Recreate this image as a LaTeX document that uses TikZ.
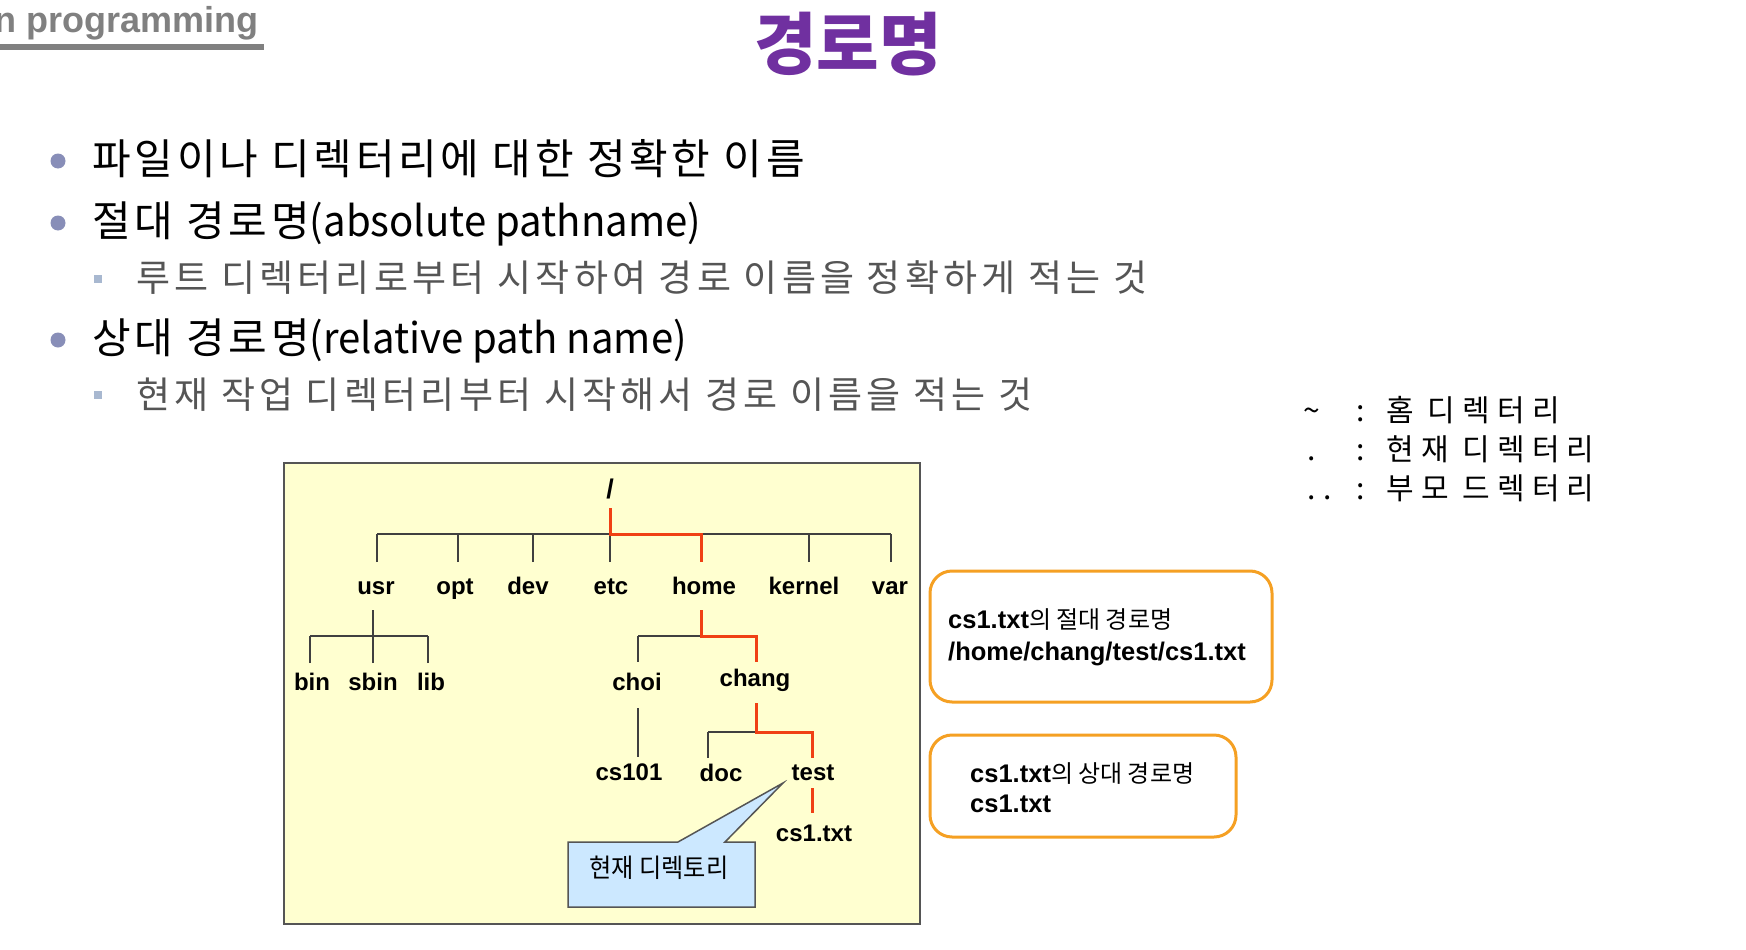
\documentclass[tikz,border=0pt]{standalone}
\usepackage{fontspec}
\setmainfont{Liberation Sans}
\newfontfamily\kr{Noto Sans CJK KR}
\newfontfamily\krc{Noto Sans CJK KR}[FakeStretch=0.93]
\newfontfamily\krl{Noto Sans CJK KR}[LetterSpace=24]
\newfontfamily\krma{Noto Sans CJK KR}[LetterSpace=9]
\newfontfamily\krsb{Noto Sans CJK KR}[LetterSpace=11.5]
\newfontfamily\krn{Noto Sans CJK KR}[FakeStretch=0.955]
\definecolor{titlepurple}{RGB}{112,48,160}
\definecolor{bulletblue}{RGB}{136,142,184}
\definecolor{subsq}{RGB}{168,184,208}
\definecolor{subgray}{RGB}{85,85,85}
\definecolor{hdrgray}{RGB}{128,128,128}
\definecolor{boxyellow}{RGB}{255,255,208}
\definecolor{framegray}{RGB}{85,85,85}
\definecolor{pathred}{RGB}{240,64,20}
\definecolor{calloutblue}{RGB}{204,232,255}
\definecolor{boxorange}{RGB}{245,160,35}
\tikzset{
  lbl/.style={font=\fontsize{24}{28}\selectfont\bfseries, inner sep=0pt, anchor=base},
  tline/.style={draw=black!75, line width=1.3pt},
  rline/.style={draw=pathred, line width=3pt},
  bul/.style={circle, fill=bulletblue, minimum size=15pt, inner sep=0pt},
  sqbul/.style={fill=subsq, minimum size=8pt, inner sep=0pt},
  mainline/.style={font=\krma\fontsize{42}{50}\selectfont, anchor=base west, inner sep=0pt},
  subline/.style={font=\krsb\fontsize{37}{44}\selectfont, text=subgray, anchor=base west, inner sep=0pt},
  legend/.style={font=\krl\fontsize{30}{36}\selectfont, anchor=base west, inner sep=0pt},
  legsym/.style={font=\kr\fontsize{30}{36}\selectfont, anchor=base, inner sep=0pt},
  infobox/.style={draw=boxorange, line width=3pt, rounded corners=22pt, fill=white},
  boxtext/.style={font=\fontsize{25.5}{30}\selectfont\bfseries, anchor=base west, inner sep=0pt}
}
\newcommand{\krt}[1]{{\kr\mdseries\fontsize{24}{28}\selectfont #1}}
\begin{document}
\begin{tikzpicture}[x=1pt,y=-1pt]
\useasboundingbox (0,0) rectangle (1746,950);
\clip (0,0) rectangle (1746,950);
\fill[white] (0,0) rectangle (1746,950);

% header
\node[font=\fontsize{36}{42}\selectfont\bfseries, text=hdrgray, anchor=base east, inner sep=0pt] (hdr) at (259,33) {n programming};
\fill[hdrgray] (0,44) rectangle (264,50);
\node[font=\kr\bfseries\fontsize{68}{76}\selectfont, text=titlepurple, anchor=base, inner sep=0pt] (title) at (848,70) {경로명};

% bullets
\node[bul] (b1) at (58,161) {};
\node[mainline] (t1) at (92,174) {파일이나 디렉터리에 대한 정확한 이름};
\node[bul] (b2) at (58,223) {};
\node[mainline] (t2) at (92,236) {절대 경로명{\krn (absolute pathname)}};
\node[sqbul] (s1) at (98,279) {};
\node[subline] (t3) at (136,291) {루트 디렉터리로부터 시작하여 경로 이름을 정확하게 적는 것};
\node[bul] (b3) at (58,340) {};
\node[mainline] (t4) at (92,353) {상대 경로명{\krn (relative path name)}};
\node[sqbul] (s2) at (98,395) {};
\node[subline] (t5) at (136,408) {현재 작업 디렉터리부터 시작해서 경로 이름을 적는 것};

% legend
\node[legsym] (l1s) at (1312,421) {\textasciitilde};
\node[legsym] (l1c) at (1361,421) {:};
\node[legend] (l1t) at (1386,421) {홈 디렉터리};
\node[legsym] (l2s) at (1312,460) {.};
\node[legsym] (l2c) at (1361,460) {:};
\node[legend] (l2t) at (1386,460) {현재 디렉터리};
\node[legsym] (l3s) at (1320,499) {.\hspace{8pt}.};
\node[legsym] (l3c) at (1361,499) {:};
\node[legend] (l3t) at (1386,499) {부모 드렉터리};

% tree frame
\draw[fill=boxyellow, draw=framegray, line width=2pt] (284,463) rectangle (920,924);

% labels
\node[lbl, font=\fontsize{27}{30}\selectfont\bfseries] (root) at (610,498) {/};
\node[lbl] (usr) at (376,594) {usr};
\node[lbl] (opt) at (455,594) {opt};
\node[lbl] (dev) at (528,594) {dev};
\node[lbl] (etc) at (611,594) {etc};
\node[lbl] (home) at (704,594) {home};
\node[lbl] (kernel) at (804,594) {kernel};
\node[lbl] (var) at (890,594) {var};
\node[lbl] (bin) at (312,690) {bin};
\node[lbl] (sbin) at (373,690) {sbin};
\node[lbl] (lib) at (431,690) {lib};
\node[lbl] (choi) at (637,690) {choi};
\node[lbl] (chang) at (755,686) {chang};
\node[lbl] (cs101) at (629,780) {cs101};
\node[lbl] (doc) at (721,781) {doc};
\node[lbl] (test) at (813,780) {test};
\node[lbl] (cs1) at (814,841) {cs1.txt};

% coordinates for connectors
\coordinate (rootout) at (610,508);
\coordinate (busw) at (377,534);
\coordinate (buse) at (891,534);
\coordinate (busroot) at (610,534);
\coordinate (usrin) at (377,562);
\coordinate (optin) at (458,562);
\coordinate (devin) at (533,562);
\coordinate (etcin) at (610,562);
\coordinate (homein) at (701,562);
\coordinate (kernelin) at (809,562);
\coordinate (varin) at (891,562);
\coordinate (usrout) at (373,610);
\coordinate (usrbus) at (373,636);
\coordinate (usrbw) at (310,636);
\coordinate (usrbe) at (428,636);
\coordinate (binin) at (310,663);
\coordinate (sbinin) at (373,663);
\coordinate (libin) at (428,663);
\coordinate (homeout) at (701,610);
\coordinate (homebus) at (701,636);
\coordinate (choibus) at (638,636);
\coordinate (choiin) at (638,662);
\coordinate (changbus) at (756,636);
\coordinate (changin) at (756,662);
\coordinate (choiout) at (638,708);
\coordinate (cs101in) at (638,757);
\coordinate (changout) at (756,703);
\coordinate (changb) at (756,732);
\coordinate (docb) at (708,732);
\coordinate (docin) at (708,758);
\coordinate (testb) at (812,732);
\coordinate (testin) at (812,758);
\coordinate (testout) at (812,788);
\coordinate (cs1in) at (812,813);

% black tree lines
\draw[tline] (busw) -- (buse);
\foreach \c in {usrin,optin,devin,etcin,kernelin,varin}{
  \draw[tline] (\c) -- (\c |- busw);
}
\draw[tline] (usrout) -- (usrbus);
\draw[tline] (usrbw) -- (usrbe);
\draw[tline] (binin) -- (binin |- usrbw);
\draw[tline] (sbinin) -- (usrbus);
\draw[tline] (libin) -- (libin |- usrbw);
\draw[tline] (choibus) -- (homebus);
\draw[tline] (choibus) -- (choiin);
\draw[tline] (choiout) -- (cs101in);
\draw[tline] (docb) -- (changb);
\draw[tline] (docb) -- (docin);

% red path
\draw[rline] (rootout) -- (busroot) -- (busroot -| homein) -- (homein);
\draw[rline] (homeout) -- (homebus) -- (changbus) -- (changin);
\draw[rline] (changout) -- (changb) -- (testb) -- (testin);
\draw[rline] (testout) -- (cs1in);

% callout
\draw[fill=calloutblue, draw=framegray, line width=1.5pt]
  (568,842) -- (678,842) -- (783,783) -- (725,842) -- (755,842) -- (755,907) -- (568,907) -- cycle;
\node[font=\krc\fontsize{26}{30}\selectfont, anchor=base, inner sep=0pt] (curdir) at (659,877) {현재 디렉토리};

% info boxes
\draw[infobox] (930,571) rectangle (1272,702);
\node[boxtext] (a1) at (948,628) {cs1.txt\krt{의 절대 경로명}};
\node[boxtext] (a2) at (948,660) {/home/chang/test/cs1.txt};
\draw[infobox] (930,735) rectangle (1236,837);
\node[boxtext] (r1) at (970,782) {cs1.txt\krt{의 상대 경로명}};
\node[boxtext] (r2) at (970,812) {cs1.txt};
\end{tikzpicture}
\end{document}
